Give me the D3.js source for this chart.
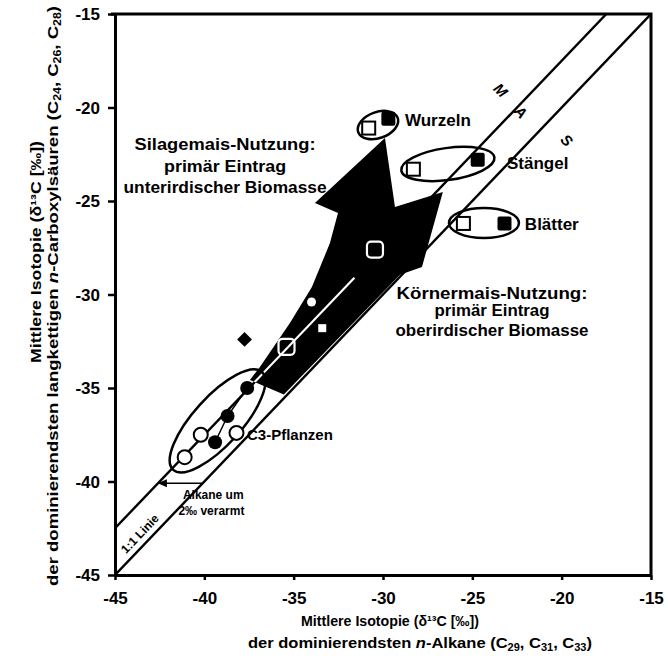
<!DOCTYPE html>
<html><head><meta charset="utf-8">
<script src="https://cdn.jsdelivr.net/npm/d3@7"></script>
<style>
body{margin:0;background:#fff}
svg{display:block}
text{font-family:"Liberation Sans",Arial,sans-serif;font-weight:bold;fill:#000}
</style>
</head><body>
<svg id="c" width="668" height="661"></svg>
<script>
// ---------- data ----------
const xTicks = [-45, -40, -35, -30, -25, -20, -15];
const yTicks = [-45, -40, -35, -30, -25, -20, -15];

// C3 plants
const c3OpenX   = [-41.1, -40.2, -38.2];
const c3OpenY   = [-38.7, -37.5, -37.4];
const c3FilledX = [-39.4, -38.7, -37.6];
const c3FilledY = [-37.9, -36.5, -35.0];

// maize organs (open = carboxylic acids vs alkanes of plant, filled = second set)
const organs       = ["Wurzeln", "Stängel", "Blätter"];
const organOpenX   = [-30.8, -28.3, -25.5];
const organOpenY   = [-21.1, -23.3, -26.2];
const organFilledX = [-29.7, -24.7, -23.2];
const organFilledY = [-20.6, -22.8, -26.2];

// soil samples (inside the arrow)
const soilSquareX = [-35.4, -30.45];
const soilSquareY = [-32.8, -27.6];
const soilSmallSqX = [-33.4];
const soilSmallSqY = [-31.8];
const soilSmallCircX = [-34.0];
const soilSmallCircY = [-30.4];
const diamondX = [-37.75];
const diamondY = [-32.4];

// reference lines: 1:1 and offset (alkanes depleted)
const lineOffsets = [0, 2.5];

// ---------- setup ----------
const svg = d3.select("#c");
const x = d3.scaleLinear().domain([-45, -15]).range([115, 651]);
const y = d3.scaleLinear().domain([-45, -15]).range([575, 14]);

const defs = svg.append("defs");
defs.append("clipPath").attr("id", "plot")
  .append("rect").attr("x", x(-45)).attr("y", y(-15))
  .attr("width", x(-15) - x(-45)).attr("height", y(-45) - y(-15));

// arrow shape (annotation) in data units
const arrowPts = [
  [-29.89, -21.63], [-29.33, -25.32], [-26.65, -24.52], [-27.82, -28.53],
  [-29.05, -28.95], [-35.55, -35.35], [-37.45, -34.57], [-36.89, -33.88],
  [-35.21, -31.52], [-33.98, -29.60], [-32.97, -27.25], [-32.52, -25.64],
  [-33.81, -25.11]
];
defs.append("clipPath").attr("id", "arrowClip")
  .append("polygon").attr("points", arrowPts.map(p => [x(p[0]), y(p[1])].join(",")).join(" "));

const g = svg.append("g");

// reference lines
g.append("g").attr("clip-path", "url(#plot)").selectAll("line").data(lineOffsets).join("line")
  .attr("x1", d => x(-45)).attr("y1", d => y(-45 + d))
  .attr("x2", d => x(-15 - d)).attr("y2", d => y(-15))
  .attr("stroke", "#000").attr("stroke-width", 2.4);

// arrow
g.append("polygon")
  .attr("points", arrowPts.map(p => [x(p[0]), y(p[1])].join(",")).join(" "))
  .attr("fill", "#000");

// offset line in white inside the arrow shaft
g.append("line").attr("clip-path", "url(#arrowClip)")
  .attr("x1", x(-38.6)).attr("y1", y(-36.1))
  .attr("x2", x(-31.6)).attr("y2", y(-29.1))
  .attr("stroke", "#fff").attr("stroke-width", 2.2);

// ellipses
const ell = [
  {cx: -39.26, cy: -36.76, rx: 66, ry: 24, rot: -47.8},
  {cx: -30.28, cy: -20.94, rx: 21, ry: 13, rot: -20},
  {cx: -26.37, cy: -23.02, rx: 47, ry: 16, rot: -8},
  {cx: -24.35, cy: -26.18, rx: 35, ry: 15, rot: 0}
];
g.selectAll("ellipse.grp").data(ell).join("ellipse").attr("class", "grp")
  .attr("cx", 0).attr("cy", 0).attr("rx", d => d.rx).attr("ry", d => d.ry)
  .attr("transform", d => `translate(${x(d.cx)},${y(d.cy)}) rotate(${d.rot})`)
  .attr("fill", "none").attr("stroke", "#000").attr("stroke-width", 2.5);

// C3 filled series line
g.append("path")
  .attr("d", d3.line()(c3FilledX.map((v, i) => [x(v), y(c3FilledY[i])])))
  .attr("fill", "none").attr("stroke", "#000").attr("stroke-width", 1.5);

// C3 markers
g.selectAll("circle.c3o").data(c3OpenX).join("circle").attr("class", "c3o")
  .attr("cx", d => x(d)).attr("cy", (d, i) => y(c3OpenY[i])).attr("r", 7)
  .attr("fill", "#fff").attr("stroke", "#000").attr("stroke-width", 2);
g.selectAll("circle.c3f").data(c3FilledX).join("circle").attr("class", "c3f")
  .attr("cx", d => x(d)).attr("cy", (d, i) => y(c3FilledY[i])).attr("r", 7)
  .attr("fill", "#000");

// diamond
g.selectAll("path.dia").data(diamondX).join("path").attr("class", "dia")
  .attr("d", d3.symbol(d3.symbolSquare, 110)())
  .attr("transform", (d, i) => `translate(${x(d)},${y(diamondY[i])}) rotate(45)`)
  .attr("fill", "#000");

// organ markers
const sq = 13;
g.selectAll("rect.oo").data(organOpenX).join("rect").attr("class", "oo")
  .attr("x", d => x(d) - sq / 2).attr("y", (d, i) => y(organOpenY[i]) - sq / 2)
  .attr("width", sq).attr("height", sq)
  .attr("fill", "#fff").attr("stroke", "#000").attr("stroke-width", 2);
g.selectAll("rect.of").data(organFilledX).join("rect").attr("class", "of")
  .attr("x", d => x(d) - 7).attr("y", (d, i) => y(organFilledY[i]) - 7)
  .attr("width", 14).attr("height", 14).attr("rx", 2).attr("fill", "#000");

// soil markers on arrow
g.selectAll("rect.so").data(soilSquareX).join("rect").attr("class", "so")
  .attr("x", d => x(d) - 8).attr("y", (d, i) => y(soilSquareY[i]) - 8)
  .attr("width", 16).attr("height", 16).attr("rx", 4)
  .attr("fill", "none").attr("stroke", "#fff").attr("stroke-width", 2.2);
g.selectAll("rect.ss").data(soilSmallSqX).join("rect").attr("class", "ss")
  .attr("x", d => x(d) - 4).attr("y", (d, i) => y(soilSmallSqY[i]) - 4)
  .attr("width", 8).attr("height", 8).attr("fill", "#fff");
g.selectAll("circle.sc").data(soilSmallCircX).join("circle").attr("class", "sc")
  .attr("cx", d => x(d)).attr("cy", (d, i) => y(soilSmallCircY[i])).attr("r", 4.5)
  .attr("fill", "#fff");

// ---------- labels ----------
function label(txt, xv, yv, size, anchor, len) {
  const t = g.append("text").attr("x", x(xv)).attr("y", y(yv))
    .attr("font-size", size).attr("text-anchor", anchor || "start")
    .attr("dominant-baseline", "central").text(txt);
  if (len) t.attr("textLength", len).attr("lengthAdjust", "spacingAndGlyphs");
  return t;
}
const organLabX = [-28.77, -23.06, -22.06];
const organLabY = [-20.67, -22.97, -26.28];
organs.forEach((o, i) => label(o, organLabX[i], organLabY[i], 17));
label("C3-Pflanzen", -37.61, -37.51, 15);

label("Silagemais-Nutzung:", -38.84, -22.0, 17, "middle", 181);
label("primär Eintrag", -38.84, -23.13, 17, "middle", 122);
label("unterirdischer Biomasse", -38.84, -24.3, 17, "middle", 203);
label("Körnermais-Nutzung:", -23.9, -29.92, 17, "middle", 191);
label("primär Eintrag", -23.9, -30.88, 17, "middle", 115);
label("oberirdischer Biomasse", -23.9, -31.9, 17, "middle", 193);

label("Alkane um", -41.2, -40.7, 12);
label("2‰ verarmt", -41.45, -41.6, 12);

// horizontal arrow: 1:1 line -> offset line
const ay = -40.1;
g.append("line").attr("x1", x(ay)).attr("y1", y(ay)).attr("x2", x(ay - 2.5) + 7).attr("y2", y(ay))
  .attr("stroke", "#000").attr("stroke-width", 1.5);
g.append("path")
  .attr("d", `M${x(ay - 2.5)},${y(ay)} l9,-4 l0,8 z`).attr("fill", "#000");

// 1:1 label rotated
const ang = -Math.atan2(y(-45) - y(-15), x(-15) - x(-45)) * 180 / Math.PI;
g.append("text").attr("font-size", 12).attr("text-anchor", "middle").attr("dominant-baseline", "central")
  .attr("transform", `translate(${x(-43.6)},${y(-42.8)}) rotate(${ang})`).text("1:1 Linie");

// MAIS letters
const maisL = ["M", "A", "S"];
const maisX = [-23.4, -22.28, -19.7];
const maisY = [-19.06, -20.24, -21.74];
maisL.forEach((m, i) => {
  g.append("text").attr("font-size", 15).attr("font-style", "italic")
    .attr("text-anchor", "middle").attr("dominant-baseline", "central")
    .attr("transform", `translate(${x(maisX[i])},${y(maisY[i])}) rotate(45)`).text(m);
});

// ---------- axes ----------
const fmt = d => String(d);
const ax = svg.append("g").attr("transform", `translate(0,${y(-45)})`)
  .call(d3.axisBottom(x).tickValues(xTicks).tickFormat(fmt).tickSize(5).tickSizeOuter(0));
const ay2 = svg.append("g").attr("transform", `translate(${x(-45)},0)`)
  .call(d3.axisLeft(y).tickValues(yTicks).tickFormat(fmt).tickSize(7).tickSizeOuter(0));
[ax, ay2].forEach(a => {
  a.select(".domain").attr("stroke", "#000").attr("stroke-width", 3);
  a.selectAll(".tick line").attr("stroke", "#000").attr("stroke-width", 2.5);
  a.selectAll(".tick text").attr("font-size", 17).attr("font-weight", "bold")
    .attr("font-family", '"Liberation Sans",Arial,sans-serif').attr("fill", "#000");
});
ax.selectAll(".tick text").attr("dy", null).attr("y", 23).attr("dominant-baseline", "central");
ay2.selectAll(".tick text").attr("dy", null).attr("x", -15).attr("dominant-baseline", "central");

// frame top + right
svg.append("path")
  .attr("d", `M${x(-45) - 4},${y(-15)} H${x(-15)} V${y(-45)}`)
  .attr("fill", "none").attr("stroke", "#000").attr("stroke-width", 3);

// axis titles
function sub(t, s) { t.append("tspan").attr("baseline-shift", "sub").attr("font-size", 10).text(s); }
const xt1 = svg.append("text").attr("x", 390).attr("y", 620).attr("text-anchor", "middle")
  .attr("dominant-baseline", "central").attr("font-size", 15)
  .attr("textLength", 178).attr("lengthAdjust", "spacingAndGlyphs")
  .text("Mittlere Isotopie (δ¹³C [‰])");
const xt2 = svg.append("text").attr("x", 420).attr("y", 642).attr("text-anchor", "middle")
  .attr("dominant-baseline", "central").attr("font-size", 15)
  .attr("textLength", 344).attr("lengthAdjust", "spacingAndGlyphs");
xt2.append("tspan").text("der dominierendsten ");
xt2.append("tspan").attr("font-style", "italic").text("n");
xt2.append("tspan").text("-Alkane (C");
sub(xt2, "29");
xt2.append("tspan").text(", C");
sub(xt2, "31");
xt2.append("tspan").text(", C");
sub(xt2, "33");
xt2.append("tspan").text(")");

const yt1 = svg.append("text").attr("transform", "translate(35,252) rotate(-90)")
  .attr("text-anchor", "middle").attr("dominant-baseline", "central").attr("font-size", 15)
  .attr("textLength", 222).attr("lengthAdjust", "spacingAndGlyphs")
  .text("Mittlere Isotopie  (δ¹³C [‰])");
const yt2 = svg.append("text").attr("transform", "translate(52,296) rotate(-90)")
  .attr("text-anchor", "middle").attr("dominant-baseline", "central").attr("font-size", 15)
  .attr("textLength", 580).attr("lengthAdjust", "spacingAndGlyphs");
yt2.append("tspan").text("der dominierendsten langkettigen ");
yt2.append("tspan").attr("font-style", "italic").text("n");
yt2.append("tspan").text("-Carboxylsäuren (C");
sub(yt2, "24");
yt2.append("tspan").text(", C");
sub(yt2, "26");
yt2.append("tspan").text(", C");
sub(yt2, "28");
yt2.append("tspan").text(")");
</script>
</body></html>
